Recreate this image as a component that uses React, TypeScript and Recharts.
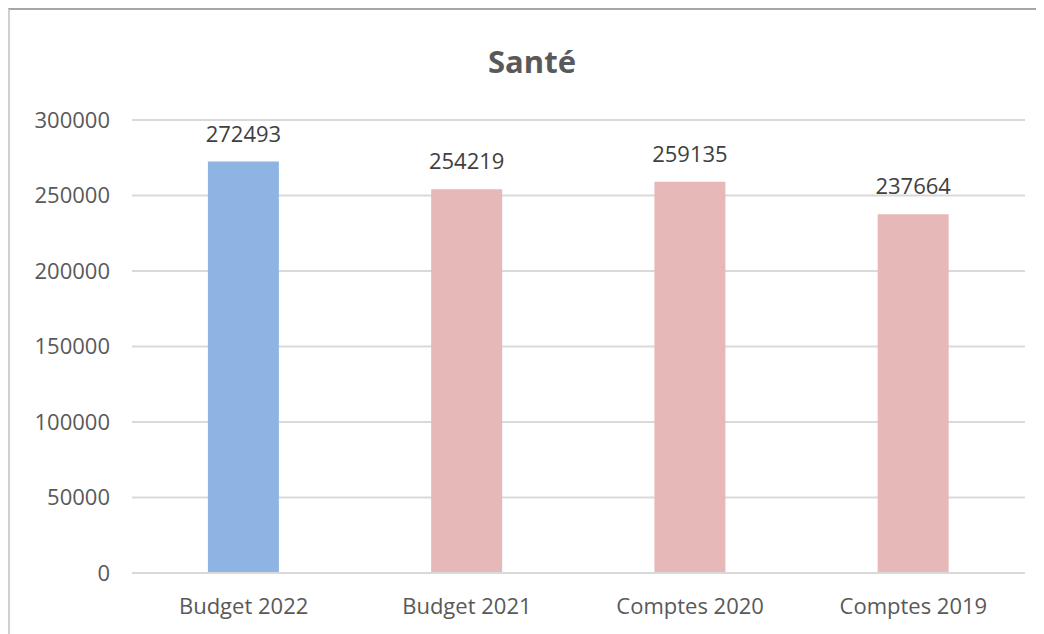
import { BarChart, Bar, XAxis, YAxis, CartesianGrid, LabelList, Cell } from 'recharts';

const categories = ['Budget 2022', 'Budget 2021', 'Comptes 2020', 'Comptes 2019'];
const amounts = [272493, 254219, 259135, 237664];
const barColors = ['#8EB4E3', '#E6B9B8', '#E6B9B8', '#E6B9B8'];
const yTicks = [0, 50000, 100000, 150000, 200000, 250000, 300000];

const data = categories.map((name, i) => ({ name, amount: amounts[i] }));

const font = '"Open Sans", sans-serif';

export default function App() {
  return (
    <div
      style={{
        position: 'relative',
        width: 1034,
        height: 624,
        borderTop: '2px solid #a6a6a6',
        borderLeft: '2px solid #d0d0d0',
        fontFamily: font,
      }}
    >
      {/* chart title */}
      <div
        style={{
          position: 'absolute',
          left: 0,
          width: 1044,
          top: 30,
          textAlign: 'center',
          fontSize: 31,
          fontWeight: 'bold',
          color: '#595959',
        }}
      >
        Santé
      </div>
      <BarChart
        width={1034}
        height={624}
        data={data}
        margin={{ top: 110, right: 19, bottom: 0, left: 0 }}
        barCategoryGap="34%"
      >
        <CartesianGrid vertical={false} stroke="#d9d9d9" strokeWidth={2} />
        <XAxis
          dataKey="name"
          axisLine={{ stroke: '#d9d9d9', strokeWidth: 2 }}
          tickLine={false}
          tickSize={0}
          tickMargin={25}
          height={61}
          tick={{ fill: '#595959', fontSize: 22, fontFamily: font }}
        />
        <YAxis
          domain={[0, 300000]}
          ticks={yTicks}
          axisLine={false}
          tickLine={false}
          tickSize={0}
          tickMargin={22}
          width={122}
          tick={{ fill: '#595959', fontSize: 22, fontFamily: font }}
        />
        <Bar dataKey="amount" isAnimationActive={false}>
          {data.map((d, i) => (
            <Cell key={d.name} fill={barColors[i]} />
          ))}
          <LabelList
            dataKey="amount"
            position="top"
            offset={20}
            fill="#404040"
            fontSize={22}
            fontFamily={font}
          />
        </Bar>
      </BarChart>
    </div>
  );
}
